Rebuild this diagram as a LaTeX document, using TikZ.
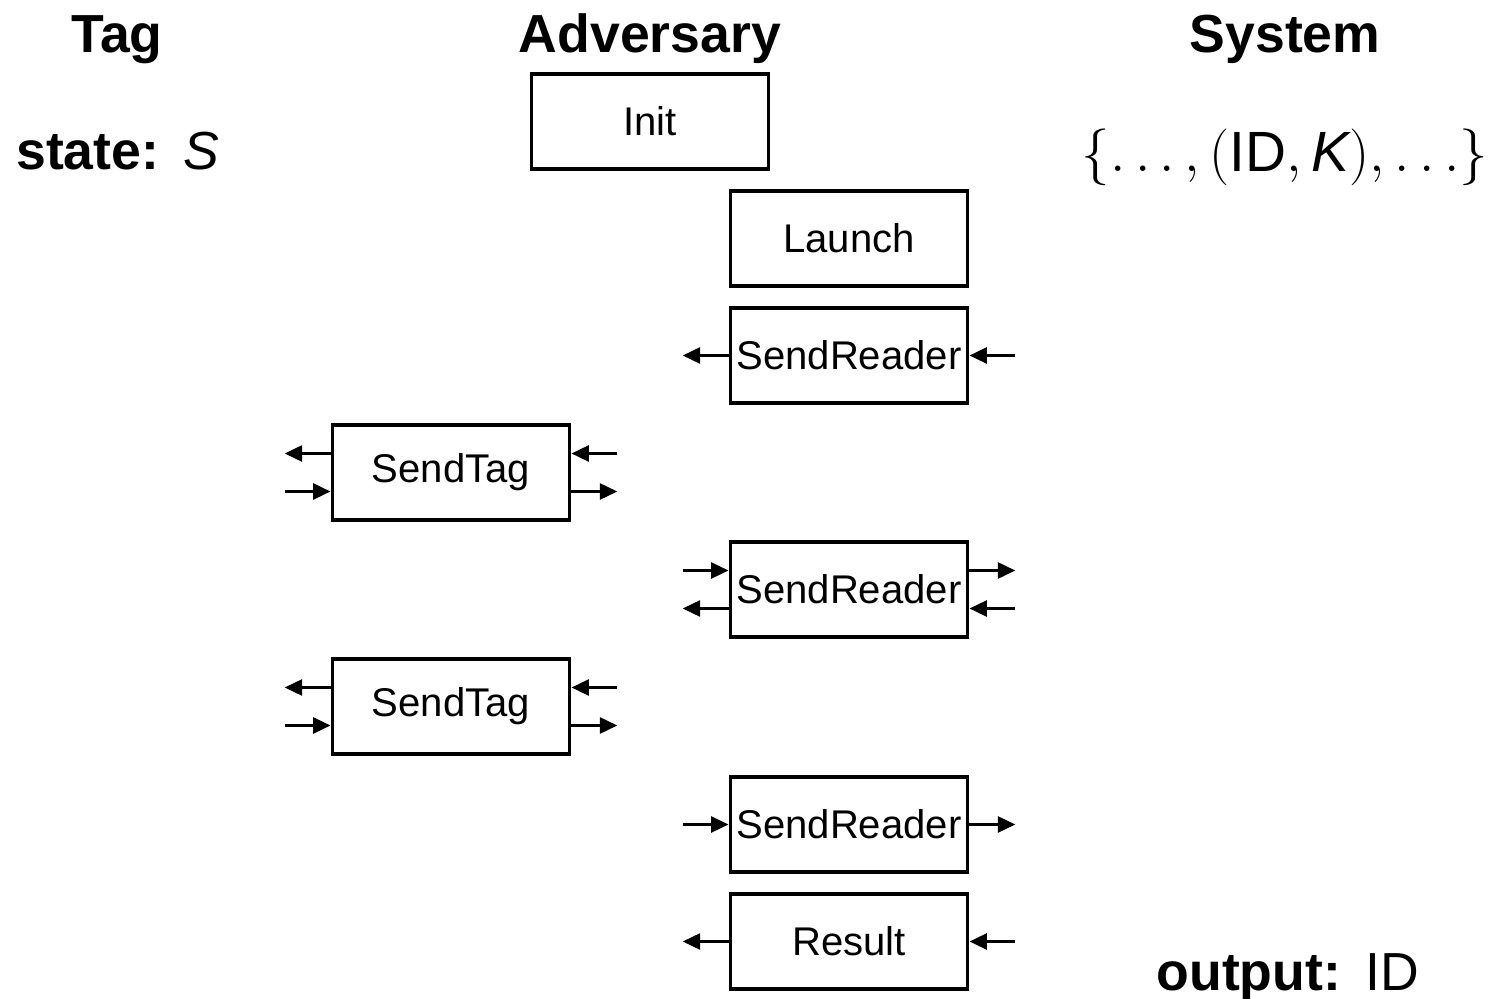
\RequirePackage{fix-cm}
\documentclass[tikz,border=0pt]{standalone}
\usepackage{fontspec}
\setmainfont{Liberation Sans}
\usetikzlibrary{arrows.meta,calc}
\begin{document}
\begin{tikzpicture}[x=0.02cm,y=-0.02cm,
  box/.style={draw,line width=1.9pt,minimum width=4.75cm,minimum height=1.9cm,inner sep=0pt,font=\fontsize{22.8}{27}\selectfont},
  title/.style={anchor=base,font=\fontsize{30.5}{36}\selectfont\bfseries},
  lbl/.style={anchor=base west,font=\fontsize{30.5}{36}\selectfont},
  arr/.style={line width=1.9pt,-{Triangle[length=10pt,width=9pt]}}]
\useasboundingbox (0,0) rectangle (1495,999);
% titles
\node[title] (tTag) at (117,53) {Tag};
\node[title] (tAdv) at (650,53) {Adversary};
\node[title] (tSys) at (1285,53) {System};
\node[lbl] (state) at (10,170) {\textbf{state:}\hspace{0.45em}\textit{S}};
\node[lbl,anchor=base east] (out) at (1425,990) {\textbf{output:}\hspace{0.45em}ID};
\node[lbl,anchor=base,font=\fontsize{32.3}{38}\selectfont] (sys) at (1285,172) {$\{\ldots,(\mbox{ID},\mbox{\itshape K}),\ldots\}$};
% boxes
\node[box] (init) at (650,121.5) {Init};
\node[box] (launch) at (849,238.5) {Launch};
\node[box] (sr1) at (849,355.5) {SendReader};
\node[box] (st1) at (451,472.5) {SendTag};
\node[box] (sr2) at (849,589.5) {SendReader};
\node[box] (st2) at (451,706.5) {SendTag};
\node[box] (sr3) at (849,824.5) {SendReader};
\node[box] (res) at (849,941.5) {Result};
% SendReader 1
\draw[arr] (sr1.west) -- ++(-46,0);
\draw[arr] ($(sr1.east)+(46,0)$) -- (sr1.east);
% SendTag 1
\draw[arr] ($(st1.west)+(0,-19)$) -- ++(-46,0);
\draw[arr] ($(st1.west)+(-46,19)$) -- ++(46,0);
\draw[arr] ($(st1.east)+(46,-19)$) -- ++(-46,0);
\draw[arr] ($(st1.east)+(0,19)$) -- ++(46,0);
% SendReader 2
\draw[arr] ($(sr2.west)+(-46,-19)$) -- ++(46,0);
\draw[arr] ($(sr2.west)+(0,19)$) -- ++(-46,0);
\draw[arr] ($(sr2.east)+(0,-19)$) -- ++(46,0);
\draw[arr] ($(sr2.east)+(46,19)$) -- ++(-46,0);
% SendTag 2
\draw[arr] ($(st2.west)+(0,-19)$) -- ++(-46,0);
\draw[arr] ($(st2.west)+(-46,19)$) -- ++(46,0);
\draw[arr] ($(st2.east)+(46,-19)$) -- ++(-46,0);
\draw[arr] ($(st2.east)+(0,19)$) -- ++(46,0);
% SendReader 3
\draw[arr] ($(sr3.west)+(-46,0)$) -- (sr3.west);
\draw[arr] (sr3.east) -- ++(46,0);
% Result
\draw[arr] (res.west) -- ++(-46,0);
\draw[arr] ($(res.east)+(46,0)$) -- (res.east);
\end{tikzpicture}
\end{document}
